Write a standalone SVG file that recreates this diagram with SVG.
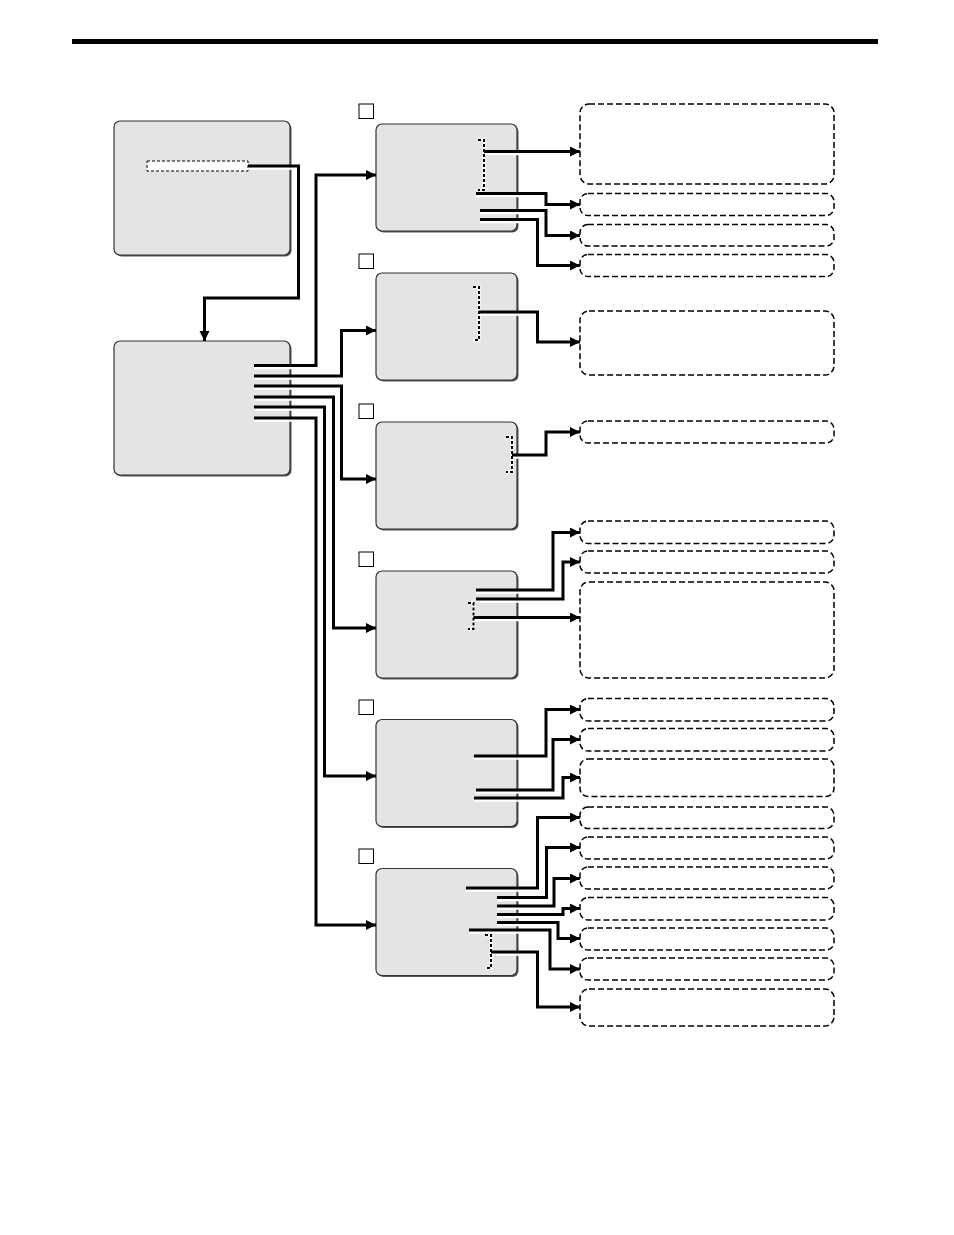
<svg xmlns="http://www.w3.org/2000/svg" width="954" height="1235" viewBox="0 0 954 1235">
<style>
.scr{fill:#e4e4e4;stroke:#333;stroke-width:1.2}
.shd{fill:#555}
.sq{fill:#fff;stroke:#000;stroke-width:1}
.db{fill:#fff;stroke:#000;stroke-width:1.5;stroke-dasharray:6 3}
.ln{fill:none;stroke:#000;stroke-width:3}
.arr{marker-end:url(#ah)}
.halo{fill:none;stroke:#fff;stroke-width:2.5}
.brw{fill:none;stroke:#fff;stroke-width:3}
.brk{fill:none;stroke:#000;stroke-width:2;stroke-dasharray:3 2}
</style>
<defs>
<marker id="ah" markerUnits="userSpaceOnUse" markerWidth="11" markerHeight="11" refX="10" refY="5" orient="auto">
<path d="M0,0 L10,5 L0,10 z" fill="#000"/>
</marker>
</defs>
<rect x="0" y="0" width="954" height="1235" fill="#fff"/>
<rect x="72" y="39" width="806" height="5" fill="#000"/>

<g id="boxA">
<rect class="shd" x="115.5" y="122.5" width="176" height="134" rx="6"/>
<rect class="scr" x="114" y="121" width="176" height="134" rx="6"/>
<rect x="147" y="161" width="101" height="10" fill="#fff" stroke="#000" stroke-width="1" stroke-dasharray="3 2"/>
</g>
<g id="boxB">
<rect class="shd" x="115.5" y="342.5" width="176" height="134" rx="6"/>
<rect class="scr" x="114" y="341" width="176" height="134" rx="6"/>
</g>
<g id="boxC">
<rect class="sq" x="359" y="104" width="14.5" height="14.5"/>
<rect class="shd" x="377.5" y="125.5" width="141" height="107" rx="6"/>
<rect class="scr" x="376" y="124" width="141" height="107" rx="6"/>
</g>
<g id="boxD">
<rect class="sq" x="359" y="254" width="14.5" height="14.5"/>
<rect class="shd" x="377.5" y="274.5" width="141" height="107" rx="6"/>
<rect class="scr" x="376" y="273" width="141" height="107" rx="6"/>
</g>
<g id="boxE">
<rect class="sq" x="359" y="404" width="14.5" height="14.5"/>
<rect class="shd" x="377.5" y="423.5" width="141" height="107" rx="6"/>
<rect class="scr" x="376" y="422" width="141" height="107" rx="6"/>
</g>
<g id="boxF">
<rect class="sq" x="359" y="552" width="14.5" height="14.5"/>
<rect class="shd" x="377.5" y="572.5" width="141" height="107" rx="6"/>
<rect class="scr" x="376" y="571" width="141" height="107" rx="6"/>
</g>
<g id="boxG">
<rect class="sq" x="359" y="700" width="14.5" height="14.5"/>
<rect class="shd" x="377.5" y="721" width="141" height="107" rx="6"/>
<rect class="scr" x="376" y="719.5" width="141" height="107" rx="6"/>
</g>
<g id="boxH">
<rect class="sq" x="359" y="849" width="14.5" height="14.5"/>
<rect class="shd" x="377.5" y="870" width="141" height="107" rx="6"/>
<rect class="scr" x="376" y="868.5" width="141" height="107" rx="6"/>
</g>

<g id="d1"><rect class="db" x="580" y="104" width="254" height="80" rx="9"/></g>
<g id="d2"><rect class="db" x="580" y="193.5" width="254" height="22" rx="8"/></g>
<g id="d3"><rect class="db" x="580" y="224.5" width="254" height="21.5" rx="8"/></g>
<g id="d4"><rect class="db" x="580" y="254.5" width="254" height="22" rx="8"/></g>
<g id="d5"><rect class="db" x="580" y="311" width="254" height="64" rx="9"/></g>
<g id="d6"><rect class="db" x="580" y="421" width="254" height="22" rx="8"/></g>
<g id="d7"><rect class="db" x="580" y="521" width="254" height="22.5" rx="8"/></g>
<g id="d8"><rect class="db" x="580" y="551" width="254" height="22" rx="8"/></g>
<g id="d9"><rect class="db" x="580" y="582" width="254" height="96" rx="9"/></g>
<g id="d10"><rect class="db" x="580" y="698.5" width="254" height="22.5" rx="8"/></g>
<g id="d11"><rect class="db" x="580" y="728.5" width="254" height="22.5" rx="8"/></g>
<g id="d12"><rect class="db" x="580" y="759" width="254" height="37.5" rx="8"/></g>
<g id="d13"><rect class="db" x="580" y="807" width="254" height="21.5" rx="8"/></g>
<g id="d14"><rect class="db" x="580" y="837" width="254" height="22" rx="8"/></g>
<g id="d15"><rect class="db" x="580" y="867" width="254" height="22" rx="8"/></g>
<g id="d16"><rect class="db" x="580" y="897.5" width="254" height="22.5" rx="8"/></g>
<g id="d17"><rect class="db" x="580" y="928" width="254" height="22" rx="8"/></g>
<g id="d18"><rect class="db" x="580" y="958" width="254" height="22" rx="8"/></g>
<g id="d19"><rect class="db" x="580" y="989" width="254" height="37" rx="9"/></g>

<g id="connectors">
<path class="halo" d="M248,168.5 H298 M254,368 H316 M254,378.5 H341 M254,388.5 H341 M254,399.5 H333 M254,409.5 H324 M254,420.5 H316
M484,154 H545 M476,196 H545 M480,213 H545 M480,222 H537
M480,314.5 H537 M513,457.5 H545
M476,592.5 H552 M476,601.5 H562 M474,620 H578
M474,758.5 H545 M476,792.5 H552 M474,800.5 H562
M466,890.5 H536 M497,900 H545 M497,908.5 H553 M497,917 H562 M497,925 H557 M469,932.5 H549 M492,954.5 H536"/>

<path class="brw" d="M478,140 H484 V190 H478"/><path class="brk" d="M478,140 H484 V190 H478"/>
<path class="brw" d="M473,287 H479 V340 H473"/><path class="brk" d="M473,287 H479 V340 H473"/>
<path class="brw" d="M506,437 H512 V472 H506"/><path class="brk" d="M506,437 H512 V472 H506"/>
<path class="brw" d="M468,603 H473.5 V629 H468"/><path class="brk" d="M468,603 H473.5 V629 H468"/>
<path class="brw" d="M485,935 H491 V968 H485"/><path class="brk" d="M485,935 H491 V968 H485"/>

<path class="ln arr" d="M248,166 H298.5 V298 H204.5 V341"/>
<path class="ln arr" d="M254,365.5 H316 V175 H376"/>
<path class="ln arr" d="M254,376 H341.5 V330.5 H376"/>
<path class="ln arr" d="M254,386 H341.5 V479 H376"/>
<path class="ln arr" d="M254,397 H333.5 V628 H376"/>
<path class="ln arr" d="M254,407 H324.5 V776 H376"/>
<path class="ln arr" d="M254,418 H316 V925 H376"/>

<path class="ln arr" d="M484,151.5 H580"/>
<path class="ln arr" d="M476,193.5 H546 V204.5 H580"/>
<path class="ln arr" d="M480,210.5 H546 V235.5 H580"/>
<path class="ln arr" d="M480,219.5 H537.5 V265.5 H580"/>
<path class="ln arr" d="M479,312 H537.5 V342 H580"/>
<path class="ln arr" d="M512,455 H546 V432 H580"/>
<path class="ln arr" d="M476,590 H553 V532.5 H580"/>
<path class="ln arr" d="M476,599 H563 V562 H580"/>
<path class="ln arr" d="M473.5,617.5 H580"/>
<path class="ln arr" d="M474,756 H546 V709.5 H580"/>
<path class="ln arr" d="M476,790 H553 V739.5 H580"/>
<path class="ln arr" d="M474,798 H563 V777.5 H580"/>
<path class="ln arr" d="M466,888 H537.5 V817.5 H580"/>
<path class="ln arr" d="M497,897.5 H546.5 V847.5 H580"/>
<path class="ln arr" d="M497,906 H554 V878.5 H580"/>
<path class="ln arr" d="M497,914.5 H563 V908.5 H580"/>
<path class="ln arr" d="M497,922.5 H558 V938.5 H580"/>
<path class="ln arr" d="M469,930 H550 V969 H580"/>
<path class="ln arr" d="M491,952 H537.5 V1007 H580"/>
</g>
</svg>
